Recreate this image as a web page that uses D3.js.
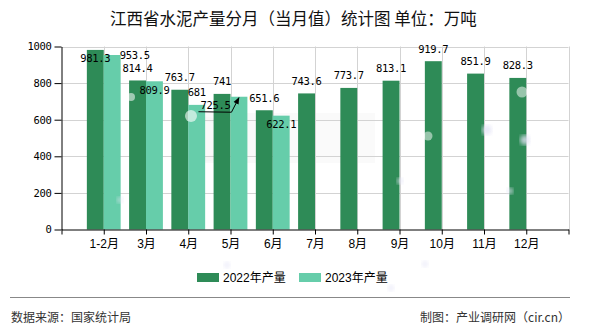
<!DOCTYPE html>
<html><head><meta charset="utf-8">
<script src="https://cdn.jsdelivr.net/npm/d3@7"></script>
<style>body{margin:0;background:#fff}svg{display:block}</style>
</head><body>
<script>
// ---- data ----
const categories = ["1-2月","3月","4月","5月","6月","7月","8月","9月","10月","11月","12月"];
const values2022 = [981.3,814.4,763.7,741,651.6,743.6,773.7,813.1,919.7,851.9,828.3];
const values2023 = [953.5,809.9,681,725.5,622.1];
const seriesNames = ["2022年产量","2023年产量"];
const yTicks = [0,200,400,600,800,1000];
const titleText = "江西省水泥产量分月（当月值）统计图 单位：万吨";
const sourceText = "数据来源：国家统计局";
const creditText = "制图：产业调研网（cir.cn）";

(function(){
// ---- layout ----
const W=590,H=330;
const colors=["#2e8b57","#66cdaa"];
const monoFont="'DejaVu Sans Mono','Liberation Mono',monospace";
const cjkFont="'Liberation Sans','Noto Sans CJK SC',sans-serif";
const svg=d3.select("body").append("svg").attr("width",W).attr("height",H);
const pl=61.5,pr=568.5,pt=46.5,pb=229.5;
const x=d3.scaleLinear().domain([0,categories.length+1]).range([pl,pr]);
const y=d3.scaleLinear().domain([0,1000]).range([pb,pt]);
const bw=(x(1)-x(0))*0.4;

const defs=svg.append("defs");
defs.append("marker").attr("id","arr").attr("viewBox","0 0 10 10").attr("refX",9).attr("refY",5)
  .attr("markerWidth",7).attr("markerHeight",7).attr("orient","auto")
  .append("path").attr("d","M0,1 L10,5 L0,9 z").attr("fill","#000");
defs.append("filter").attr("id","blur").append("feGaussianBlur").attr("stdDeviation",2);

// title
svg.append("text").attr("x",110).attr("y",18).attr("dominant-baseline","central")
  .attr("font-family","'Noto Sans CJK SC',sans-serif").attr("font-size",16.5).attr("fill","#111")
  .text(titleText);

// faint watermark shape
const wm=svg.append("g").attr("opacity",0.04);
wm.append("rect").attr("x",180).attr("y",113).attr("width",195).attr("height",50).attr("fill","#888");
wm.append("circle").attr("cx",205).attr("cy",139).attr("r",20).attr("fill","none").attr("stroke","#333").attr("stroke-width",5);

// grid
const grid=svg.append("g").attr("stroke","#d3d3d3").attr("stroke-width",1);
grid.selectAll("line.h").data(yTicks.filter(d=>d>0)).join("line")
  .attr("x1",pl).attr("x2",pr).attr("y1",d=>Math.round(y(d))+0.5).attr("y2",d=>Math.round(y(d))+0.5);
grid.selectAll("line.v").data(d3.range(1,categories.length+2)).join("line")
  .attr("x1",d=>Math.round(x(d))+0.5).attr("x2",d=>Math.round(x(d))+0.5).attr("y1",pt).attr("y2",pb);

// bars
const bars=svg.append("g");
bars.selectAll("rect.a").data(values2022).join("rect")
  .attr("x",(d,i)=>x(i+1)-bw).attr("width",bw).attr("y",d=>y(d)).attr("height",d=>pb-y(d)).attr("fill",colors[0]);
bars.selectAll("rect.b").data(values2023).join("rect")
  .attr("x",(d,i)=>x(i+1)).attr("width",bw).attr("y",d=>y(d)).attr("height",d=>pb-y(d)).attr("fill",colors[1]);

// decorative sparkles
const sparkles=[[131,97,4,.55,0],[191,116,6,.6,0],[428,136,4.5,.5,0],[522,92,5.5,.5,0],
  [487,130,5,.8,1],[525,140,5,.8,1],[400,181,3,.8,1],[510,191,3,.8,1],[227,265,3,.7,1],[425,264,3,.7,1],[391,288,3,.7,1],[120,200,3,.6,1]];
svg.append("g").selectAll("circle").data(sparkles).join("circle")
  .attr("cx",d=>d[0]).attr("cy",d=>d[1]).attr("r",d=>d[2]).attr("opacity",d=>d[3])
  .attr("fill",d=>d[4]?"#e4e4f6":"#ffffff").attr("filter",d=>d[4]?"url(#blur)":null);

// axes
const yAxis=svg.append("g").attr("transform",`translate(${pl},0)`)
  .call(d3.axisLeft(y).tickValues(yTicks).tickFormat(d3.format("d")).tickSize(7).tickSizeOuter(0).tickPadding(3));
const xAxis=svg.append("g").attr("transform",`translate(0,${pb})`)
  .call(d3.axisBottom(x).tickValues(d3.range(0,categories.length+2)).tickSize(5).tickSizeOuter(0).tickPadding(4.5)
    .tickFormat(i=>(i>=1&&i<=categories.length)?categories[i-1]:""));
[yAxis,xAxis].forEach(a=>{a.selectAll("path,line").attr("stroke","#000");a.selectAll("text").attr("fill","#000");});
yAxis.selectAll("text").attr("font-family",monoFont).attr("font-size",10.5).attr("letter-spacing",-0.3);
xAxis.selectAll("text").attr("font-family",cjkFont).attr("font-size",12);

// value labels
const lab=svg.append("g").attr("font-family",monoFont).attr("font-size",10.5).attr("letter-spacing",-0.3)
  .attr("fill","#000").attr("dominant-baseline","central");
const inside=new Set(["a0","b1","b4"]);
values2022.forEach((v,i)=>{
  const cx=x(i+1)-bw/2, t=y(v);
  lab.append("text").attr("x",cx).attr("y",inside.has("a"+i)?t+8.5:t-12.5).attr("text-anchor","middle").text(v);
});
values2023.forEach((v,i)=>{
  const cx=x(i+1)+bw/2, t=y(v), key="b"+i;
  if(i===0){
    lab.append("text").attr("x",x(i+1)+bw-1).attr("y",t).attr("text-anchor","start").text(v);
  } else if(i===3){
    const kx=cx-7.5, ky=t+15;
    svg.append("path").attr("d",`M${kx-33},${ky} L${kx},${ky+0.5} L${cx},${t+1}`)
      .attr("fill","none").attr("stroke","#000").attr("stroke-width",1).attr("marker-end","url(#arr)");
    lab.append("text").attr("x",kx-16).attr("y",ky-7).attr("text-anchor","middle").text(v);
  } else {
    lab.append("text").attr("x",cx).attr("y",inside.has(key)?t+8.5:t-12.5).attr("text-anchor","middle").text(v);
  }
});

// legend
const leg=svg.append("g");
const legX=[197,299];
seriesNames.forEach((n,i)=>{
  leg.append("rect").attr("x",legX[i]).attr("y",273).attr("width",22).attr("height",9).attr("fill",colors[i]);
  leg.append("text").attr("x",legX[i]+26).attr("y",277.5).attr("dominant-baseline","central")
    .attr("font-family",cjkFont).attr("font-size",12).attr("fill","#000").text(n);
});

// footer
svg.append("line").attr("x1",10).attr("x2",570).attr("y1",297.5).attr("y2",297.5).attr("stroke","#888");
svg.append("text").attr("x",11).attr("y",316).attr("dominant-baseline","central")
  .attr("font-family","'Noto Sans CJK SC',sans-serif").attr("font-size",12).attr("fill","#333").text(sourceText);
svg.append("text").attr("x",570).attr("y",316).attr("dominant-baseline","central").attr("text-anchor","end")
  .attr("font-family","'Noto Sans CJK SC',sans-serif").attr("font-size",12).attr("fill","#333").text(creditText);
})();
</script>
</body></html>
